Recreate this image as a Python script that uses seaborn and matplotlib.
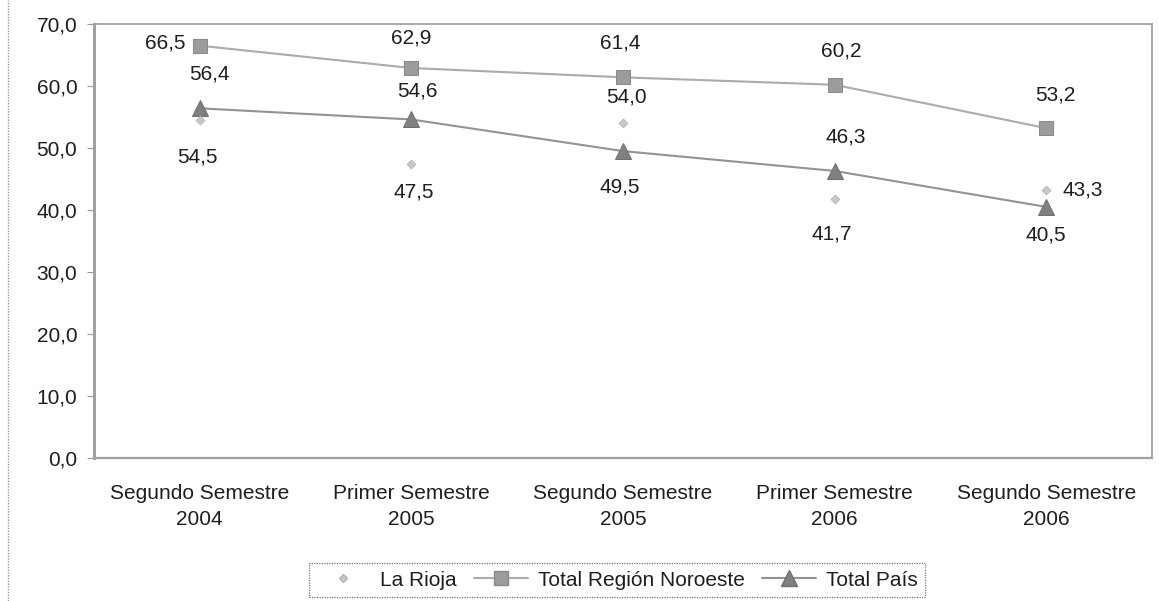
import numpy as np
import pandas as pd
import matplotlib
matplotlib.use("Agg")
import matplotlib.pyplot as plt
from matplotlib.lines import Line2D
import seaborn as sns

categories = ["Segundo Semestre\n2004", "Primer Semestre\n2005", "Segundo Semestre\n2005",
              "Primer Semestre\n2006", "Segundo Semestre\n2006"]
la_rioja = [54.5, 47.5, 54.0, 41.7, 43.3]
noroeste = [66.5, 62.9, 61.4, 60.2, 53.2]
total_pais = [56.4, 54.6, 49.5, 46.3, 40.5]
series_names = ["La Rioja", "Total Región Noroeste", "Total País"]
y_ticks = [0, 10, 20, 30, 40, 50, 60, 70]

# label offsets (pixels) relative to each marker
off_rioja = [(-2, -37), (2, -29), (3, 26), (-3, -35), (37, 0)]
off_noro = [(-35, 3), (0, 30), (-3, 34), (7, 34), (9, 33)]
off_pais = [(10, 34), (6, 28), (-3, -36), (11, 34), (0, -28)]

sns.set_style("white")
plt.rcParams["font.family"] = ["Liberation Sans", "DejaVu Sans"]

fig = plt.figure(figsize=(11.59, 6.01), dpi=100)
ax = fig.add_axes([94 / 1159, 1 - 458 / 601, (1152 - 94) / 1159, (458 - 24) / 601])

xpos = np.arange(len(categories))
df = pd.DataFrame({"x": np.tile(xpos, 3),
                   "y": la_rioja + noroeste + total_pais,
                   "serie": np.repeat(series_names, len(categories))})

txt_color = "#1e1e1e"
c_noro_line, c_noro_mk = "#ababab", "#9c9c9c"
c_pais_line, c_pais_mk = "#939393", "#808080"
c_rioja = "#c8c8c8"

d_n = df[df.serie == series_names[1]]
d_p = df[df.serie == series_names[2]]
d_r = df[df.serie == series_names[0]]

sns.lineplot(data=d_n, x="x", y="y", ax=ax, color=c_noro_line, lw=1.5, marker="s",
             markersize=10, markerfacecolor=c_noro_mk, markeredgecolor="#8a8a8a", zorder=3)
sns.lineplot(data=d_p, x="x", y="y", ax=ax, color=c_pais_line, lw=1.5, marker="^",
             markersize=11, markerfacecolor=c_pais_mk, markeredgecolor="#707070", zorder=3)
sns.scatterplot(data=d_r, x="x", y="y", ax=ax, color=c_rioja, marker="D", s=20,
                edgecolor="#b4b4b4", linewidth=0.6, zorder=4)

def fmt(v):
    return f"{v:.1f}".replace(".", ",")

for vals, offs in ((la_rioja, off_rioja), (noroeste, off_noro), (total_pais, off_pais)):
    for xi, v, (dx, dy) in zip(xpos, vals, offs):
        ax.annotate(fmt(v), (xi, v), xytext=(dx, dy), textcoords="offset pixels",
                    ha="center", va="center", fontsize=15, color=txt_color, zorder=5)

ax.set_xlim(-0.5, len(categories) - 0.5)
ax.set_ylim(0, 70)
ax.set_yticks(y_ticks)
ax.set_yticklabels([fmt(t) for t in y_ticks], fontsize=15, color=txt_color)
ax.set_xticks(xpos)
ax.set_xticklabels(categories, fontsize=15, color=txt_color, linespacing=1.45)
ax.set_xticks(np.arange(len(categories) + 1) - 0.5, minor=True)
ax.tick_params(axis="x", which="major", length=0, pad=19)
ax.tick_params(axis="x", which="minor", length=5, color="#999999", direction="out")
ax.tick_params(axis="y", length=5, color="#999999", direction="out", pad=7, left=True)
ax.set_xlabel("")
ax.set_ylabel("")

for s in ("top", "right"):
    ax.spines[s].set_visible(True)
    ax.spines[s].set_color("#9a9a9a")
    ax.spines[s].set_linestyle((0, (1, 1)))
    ax.spines[s].set_linewidth(1.2)
ax.spines["left"].set_color("#a0a0a0")
ax.spines["left"].set_linewidth(2.2)
ax.spines["bottom"].set_color("#a0a0a0")
ax.spines["bottom"].set_linewidth(1.6)

# outer chart border (left edge visible in the scan)
fig.add_artist(Line2D([8 / 1159, 8 / 1159], [0, 1], transform=fig.transFigure,
                      color="#9a9a9a", lw=1, linestyle=(0, (1, 1))))

handles = [
    Line2D([], [], color="white", lw=0, marker="D", markersize=4.5,
           markerfacecolor=c_rioja, markeredgecolor="#b4b4b4"),
    Line2D([], [], color=c_noro_line, lw=1.5, marker="s", markersize=10,
           markerfacecolor=c_noro_mk, markeredgecolor="#8a8a8a"),
    Line2D([], [], color=c_pais_line, lw=1.5, marker="^", markersize=11,
           markerfacecolor=c_pais_mk, markeredgecolor="#707070"),
]
leg = fig.legend(handles, series_names, loc="center", bbox_to_anchor=(617 / 1159, 1 - 580 / 601),
                 ncol=3, fontsize=15, frameon=True, fancybox=False, handlelength=2.6,
                 handletextpad=0.5, columnspacing=0.8, borderpad=0.35)
leg.get_frame().set_edgecolor("#555555")
leg.get_frame().set_linewidth(0.9)
leg.get_frame().set_linestyle((0, (1, 1)))
for t in leg.get_texts():
    t.set_color(txt_color)

fig.savefig("out.png", dpi=100)
